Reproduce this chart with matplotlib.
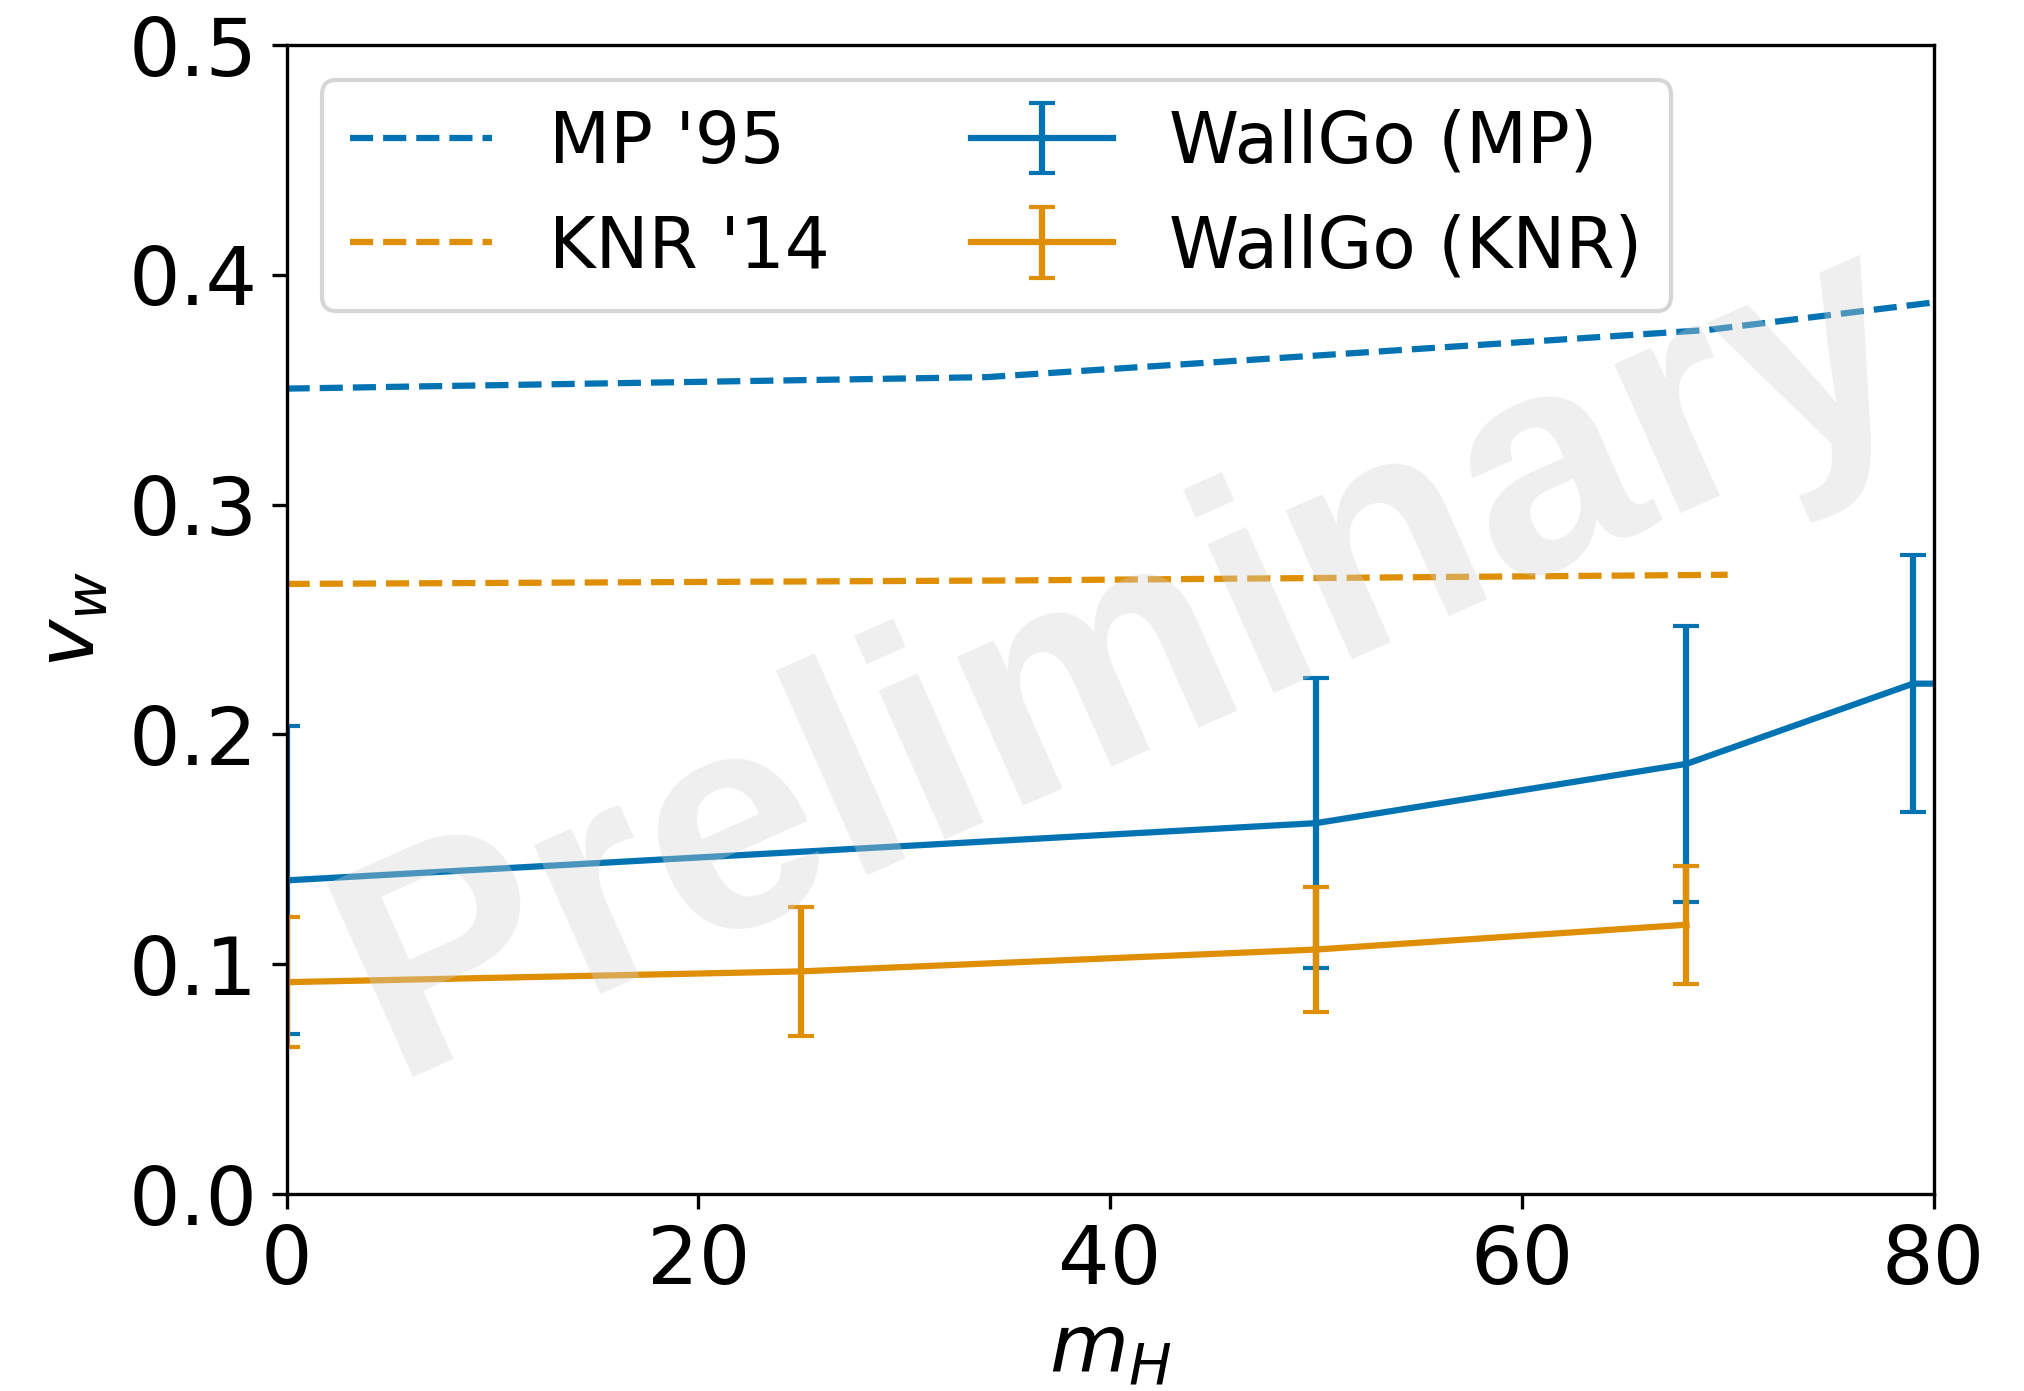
import numpy as np
import matplotlib
matplotlib.use("Agg")
import matplotlib.pyplot as plt

# 文献结果 (虚线)
mp95_mH = [0, 34, 69, 80]
mp95_vw = [0.3505, 0.3555, 0.3760, 0.3880]
knr14_mH = [0, 35, 70]
knr14_vw = [0.2655, 0.2670, 0.2695]

# WallGo 结果 (带误差棒)
wg_mp_mH = [0, 50, 68, 79, 90]
wg_mp_vw = [0.1365, 0.1614, 0.1872, 0.2221, 0.2222]
wg_mp_err = [0.067, 0.063, 0.060, 0.056, 0.056]
wg_knr_mH = [0, 25, 50, 68]
wg_knr_vw = [0.0922, 0.0969, 0.1064, 0.1172]
wg_knr_err = [0.0283, 0.0280, 0.0273, 0.0257]

c_blue = "#0173b2"
c_orange = "#de8f05"

fig = plt.figure(figsize=(2024 / 300, 1391 / 300), dpi=300)
ax = fig.add_axes([0.1416, 0.1416, 0.9553 - 0.1416, 0.9676 - 0.1416])

ax.plot(mp95_mH, mp95_vw, "--", color=c_blue, lw=1.5, label="MP '95")
ax.plot(knr14_mH, knr14_vw, "--", color=c_orange, lw=1.5, label="KNR '14")
ax.errorbar(wg_mp_mH, wg_mp_vw, yerr=wg_mp_err, color=c_blue, lw=1.5,
            capsize=3.2, label="WallGo (MP)")
ax.errorbar(wg_knr_mH, wg_knr_vw, yerr=wg_knr_err, color=c_orange, lw=1.5,
            capsize=3.2, label="WallGo (KNR)")

ax.set_xlim(0, 80)
ax.set_ylim(0, 0.5)
ax.set_xticks([0, 20, 40, 60, 80])
ax.set_yticks([0.0, 0.1, 0.2, 0.3, 0.4, 0.5])
ax.tick_params(labelsize=19.5)
ax.set_xlabel("$m_H$", fontsize=19.5, labelpad=2.5)
ax.set_ylabel("$v_w$", fontsize=19.5)

ax.legend(loc="upper left", ncol=2, fontsize=17.0)

# 水印
ax.text(0.51, 0.462, "Preliminary", transform=ax.transAxes,
        ha="center", va="center", rotation=24,
        fontsize=74, fontweight="bold", family="Liberation Sans",
        color="lightgray", alpha=0.36, zorder=10)

fig.savefig("out.png", dpi=300)
